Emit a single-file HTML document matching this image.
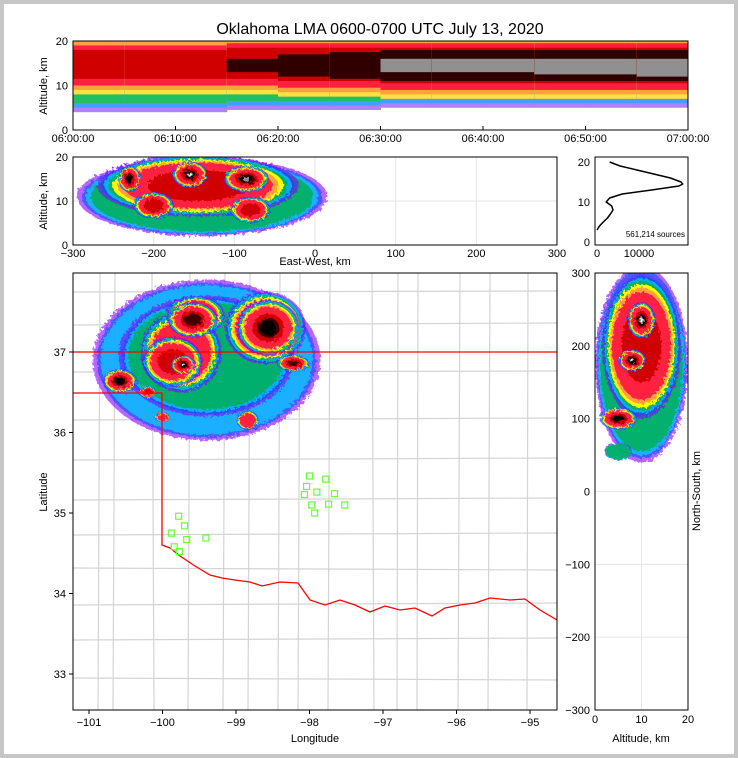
<!DOCTYPE html>
<html><head><meta charset="utf-8"><style>
body{margin:0;background:#fff;}
#wrap{position:relative;width:738px;height:758px;box-sizing:border-box;border:4px solid #c6c6c6;background:#fff;}
svg{position:absolute;left:-4px;top:-4px;font-family:"Liberation Sans",sans-serif;}
</style></head><body>
<div id="wrap">
<svg id="s" width="738" height="758">
<defs>
<clipPath id="cTop"><rect x="73" y="41" width="615" height="89"/></clipPath>
<clipPath id="cEW"><rect x="73" y="157" width="484" height="88"/></clipPath>
<clipPath id="cMap"><rect x="73" y="273" width="484" height="437"/></clipPath>
<clipPath id="cNS"><rect x="595" y="273" width="93" height="437"/></clipPath>
<filter id="rough"><feTurbulence type="fractalNoise" baseFrequency="0.35" numOctaves="2" seed="3"/><feDisplacementMap in="SourceGraphic" scale="6"/></filter>
</defs>
<text x="380" y="34" font-size="16" text-anchor="middle">Oklahoma LMA 0600-0700 UTC July 13, 2020</text>
</svg>
</div>
<script>
// ---------- data ----------
const timeBins=[0,5,10,15,20,25,30,35,40,45,50,55,60];
const sourceBottom=[4,4,4,4.5,4.5,4.5,5,5,5,5,5,5,5];
const redLow=[10,10,10,10,9.5,9.5,9,9,9,9,9,9,9];
const redHigh=[19,19,19,19.5,19.5,19.5,19.5,19.5,19.5,19.5,19.5,19.5,19.5];
const darkLow=[0,0,0,13,12,11.5,11,11,11,11,11,11,11];
const darkHigh=[0,0,0,16,17,17.5,18,18,18,18,18,18,17.5];
const grayLow=[0,0,0,0,0,0,13,13,13,12.5,12.5,12,12];
const grayHigh=[0,0,0,0,0,0,16,16,16,16,16,16,16];
const timeLabels=["06:00:00","06:10:00","06:20:00","06:30:00","06:40:00","06:50:00","07:00:00"];
// EW blobs: x km, alt km, rx km, ry km, intensity
const ewX=[-140,-145,-230,-155,-85,-200,-80];
const ewAlt=[11,13.5,15,16,15,9,8];
const ewRx=[155,125,14,22,28,25,25];
const ewRy=[9,7,3,3,3,3,3];
const ewI=[2,6,8,10,9,6,6];
// histogram: counts per altitude (km)
const histAlt=[3,4,5,6,7,8,9,10,11,12,13,14,14.5,15,16,17,18,19,20];
const histCount=[0,600,1500,2500,3200,3800,3500,2200,3000,6000,13000,19500,20400,20000,17500,13500,9500,5500,3000];
// map blobs: lon, lat, rx deg, ry deg, intensity
const mapLon=[-99.4,-99.4,-99.75,-99.55,-98.6,-99.86,-99.72,-99.59,-98.56,-98.22,-100.58,-100.2,-100.0,-98.84];
const mapLat=[36.9,36.95,37.0,37.45,37.3,36.88,36.84,37.4,37.3,36.86,36.64,36.5,36.19,36.15];
const mapRx=[1.55,1.2,0.55,0.4,0.55,0.41,0.16,0.34,0.43,0.22,0.23,0.12,0.1,0.15];
const mapRy=[1.0,0.75,0.5,0.25,0.45,0.31,0.12,0.22,0.35,0.1,0.15,0.07,0.06,0.12];
const mapI=[1,2,5,5,5,6,10,7,8,7,8,6,5,5];
// station markers
const staLon=[-99.78,-99.7,-99.88,-99.67,-99.84,-99.77,-99.41,-98.0,-97.78,-98.04,-97.9,-98.07,-97.66,-97.97,-97.74,-97.52,-97.93];
const staLat=[34.96,34.84,34.75,34.67,34.58,34.52,34.69,35.46,35.42,35.33,35.26,35.23,35.24,35.1,35.11,35.1,35.0];
// NS blobs: alt km, ns km, rx km(alt), ry km(ns), intensity
const nsAlt=[10,10,10,8,5,5];
const nsY=[175,200,235,180,100,55];
const nsRx=[10,8.5,3,3,4,3];
const nsRy=[135,100,25,15,15,12];
const nsI=[2,6,10,10,8,2];
// ---------- helpers ----------
const S=document.getElementById('s');const NS='http://www.w3.org/2000/svg';
function mk(t,a,p){const e=document.createElementNS(NS,t);for(const k in a)e.setAttribute(k,a[k]);(p||S).appendChild(e);return e;}
const palette=['#8a00ff','#0050ff','#00e0ff','#00b030','#ffff00','#ffa040','#ff2040','#d00000','#400000','#000000','#909090','#ffffff'];
const scales=[1,0.96,0.93,0.89,0.85,0.8,0.74,0.5,0.35,0.25,0.17,0.1];
const opac=[0.6,0.6,0.65,0.7,1,1,1,1,1,1,1,1];
function blob(g,cx,cy,rx,ry,I,name){
  const n=Math.min(palette.length,Math.round(I)+2);
  for(let i=0;i<n;i++){
    const e=mk('ellipse',{cx:cx,cy:cy,rx:rx*scales[i],ry:ry*scales[i],fill:palette[i],'fill-opacity':opac[i]},g);
    
    
  }
}
function txt(x,y,s,anchor,size,name,rot){const t=mk('text',{x:x,y:y,'font-size':size||11,'text-anchor':anchor||'middle'});t.textContent=s;if(rot)t.setAttribute('transform','rotate(-90 '+x+' '+y+')');return t;}
function frame(x,y,w,h,name){const r=mk('rect',{x:x,y:y,width:w,height:h,fill:'none',stroke:'#000','stroke-width':1});}
// ---------- top panel ----------
const tx=t=>73+t*615/60, ty=a=>130-a*89/20;
const gTop=mk('g',{'clip-path':'url(#cTop)'});
for(let i=0;i<timeBins.length-1;i++){
  const x0=tx(timeBins[i]),x1=tx(timeBins[i+1])+0.5;
  const bands=[[sourceBottom[i],20,'#b080ff'],[sourceBottom[i]+1,20,'#40a0ff'],[sourceBottom[i]+2,20,'#20c060'],[redLow[i]-2,20,'#ffe040'],[redLow[i]-1,20,'#ffa040'],[redLow[i],redHigh[i],'#ff2040'],[redLow[i]+1.5,redHigh[i]-1,'#d00000']];
  if(darkHigh[i]>0)bands.push([darkLow[i],darkHigh[i],'#300000']);
  if(grayHigh[i]>0)bands.push([grayLow[i],grayHigh[i],'#909090']);
  for(const b of bands){const r=mk('rect',{x:x0,y:ty(b[1]),width:x1-x0,height:ty(b[0])-ty(b[1]),fill:b[2]},gTop);}
}
frame(73,41,615,89,'time-height-axes');
timeLabels.forEach((l,i)=>{const x=tx(i*10);mk('line',{x1:x,x2:x,y1:130,y2:126,stroke:'#000'});txt(x,142,l,'middle',11,'x-tick-time');});
[0,10,20].forEach(a=>txt(68,ty(a)+4,String(a),'end',11,'y-tick-alt'));
txt(47,86,'Altitude, km','middle',11,'y-axis-title-top',true);
// ---------- EW panel ----------
const ex=k=>315+k*484/600, ey=a=>245-a*88/20;
[-200,-100,0,100,200].forEach(k=>mk('line',{x1:ex(k),x2:ex(k),y1:157,y2:245,stroke:'#e6e6e6'}));
mk('line',{x1:73,x2:557,y1:ey(10),y2:ey(10),stroke:'#e6e6e6'});
const gEW=mk('g',{'clip-path':'url(#cEW)',filter:'url(#rough)'});
ewX.forEach((v,i)=>blob(gEW,ex(v),ey(ewAlt[i]),ewRx[i]*484/600,ewRy[i]*88/20,ewI[i],'ew-blob'));
frame(73,157,484,88,'east-west-axes');
[-300,-200,-100,0,100,200,300].forEach(k=>txt(ex(k),257,String(k).replace('-','−'),'middle',11,'x-tick-ew'));
[0,10,20].forEach(a=>txt(68,ey(a)+4,String(a),'end',11,'y-tick-ew'));
txt(47,201,'Altitude, km','middle',11,'y-axis-title-ew',true);
txt(315,265,'East-West, km','middle',11,'x-axis-title-ew');
// ---------- histogram ----------
const hx=c=>597+c*4.2/1000, hy=a=>242-a*80/20;
frame(595,157,93,88,'histogram-axes');
const hp=mk('path',{d:histAlt.map((a,i)=>(i?'L':'M')+hx(histCount[i]).toFixed(1)+' '+hy(a).toFixed(1)).join(' '),fill:'none',stroke:'#000','stroke-width':1.5,'stroke-linejoin':'round'});

[0,10,20].forEach(a=>txt(590,hy(a)+4,String(a),'end',11,'y-tick-hist'));
txt(597,257,'0','middle',11,'x-tick-hist');txt(639,257,'10000','middle',11,'x-tick-hist');
txt(685,237,'561,214 sources','end',8,'source-count');
// ---------- map ----------
const mx=l=>89+(l+101)*73.5, my=l=>352-(l-37)*80.5;
const gMap=mk('g',{'clip-path':'url(#cMap)'});
const cx=[100,115,152,190,225,250,280,300,330,372,398,418,460,490,528];
const cy=[292,325,372,420,460,500,535,568,605,640,678];
cx.forEach(x=>{const l=mk('line',{x1:x,x2:x+((x*7)%5-2),y1:273,y2:710,stroke:'#d4d4d4','stroke-width':1.2},gMap);});
cy.forEach(y=>{const l=mk('line',{x1:73,x2:557,y1:y,y2:y+((y*3)%5-2),stroke:'#d4d4d4','stroke-width':1.2},gMap);});
const gBl=mk('g',{filter:'url(#rough)'},gMap);
mapLon.forEach((v,i)=>blob(gBl,mx(v),my(mapLat[i]),mapRx[i]*73.5,mapRy[i]*80.5,mapI[i],'map-blob'));
const border=mk('path',{d:'M73 352 L557 352 M73 393 L162 393 L162 545 L170 548 L180 556 L195 566 L210 575 L222 578 L235 580 L250 582 L262 586 L280 582 L298 583 L310 600 L325 605 L340 600 L355 605 L370 612 L385 606 L400 610 L415 608 L432 616 L445 608 L460 605 L475 603 L490 598 L510 600 L525 599 L540 610 L557 620',fill:'none',stroke:'#ff0000','stroke-width':1.3},gMap);

staLon.forEach((v,i)=>{const r=mk('rect',{x:mx(v)-3,y:my(staLat[i])-3,width:6,height:6,fill:'none',stroke:'#66ff33','stroke-width':1.2},gMap);});
frame(73,273,484,437,'map-axes');
[-101,-100,-99,-98,-97,-96,-95].forEach(l=>{mk('line',{x1:mx(l),x2:mx(l),y1:710,y2:714,stroke:'#000'});txt(mx(l),726,String(l).replace('-','−'),'middle',11,'x-tick-lon');});
[33,34,35,36,37].forEach(l=>{mk('line',{x1:69,x2:73,y1:my(l),y2:my(l),stroke:'#000'});txt(66,my(l)+4,String(l),'end',11,'y-tick-lat');});
txt(315,742,'Longitude','middle',11,'x-axis-title-map');
txt(47,492,'Latitude','middle',11,'y-axis-title-map',true);
// ---------- NS panel ----------
const nx=a=>595+a*93/20, ny=k=>491.5-k*437/600;
[-200,-100,0,100,200].forEach(k=>mk('line',{x1:595,x2:688,y1:ny(k),y2:ny(k),stroke:'#e6e6e6'}));
mk('line',{x1:nx(10),x2:nx(10),y1:273,y2:710,stroke:'#e6e6e6'});
const gNS=mk('g',{'clip-path':'url(#cNS)',filter:'url(#rough)'});
nsAlt.forEach((v,i)=>blob(gNS,nx(v),ny(nsY[i]),nsRx[i]*93/20,nsRy[i]*437/600,nsI[i],'ns-blob'));
frame(595,273,93,437,'north-south-axes');
[-300,-200,-100,0,100,200,300].forEach(k=>txt(590,ny(k)+4,String(k).replace('-','−'),'end',11,'y-tick-ns'));
[0,10,20].forEach(a=>txt(nx(a),723,String(a),'middle',11,'x-tick-ns'));
txt(641,742,'Altitude, km','middle',11,'x-axis-title-ns');
txt(700,491,'North-South, km','middle',11,'y-axis-title-ns',true);
</script>
</body></html>
